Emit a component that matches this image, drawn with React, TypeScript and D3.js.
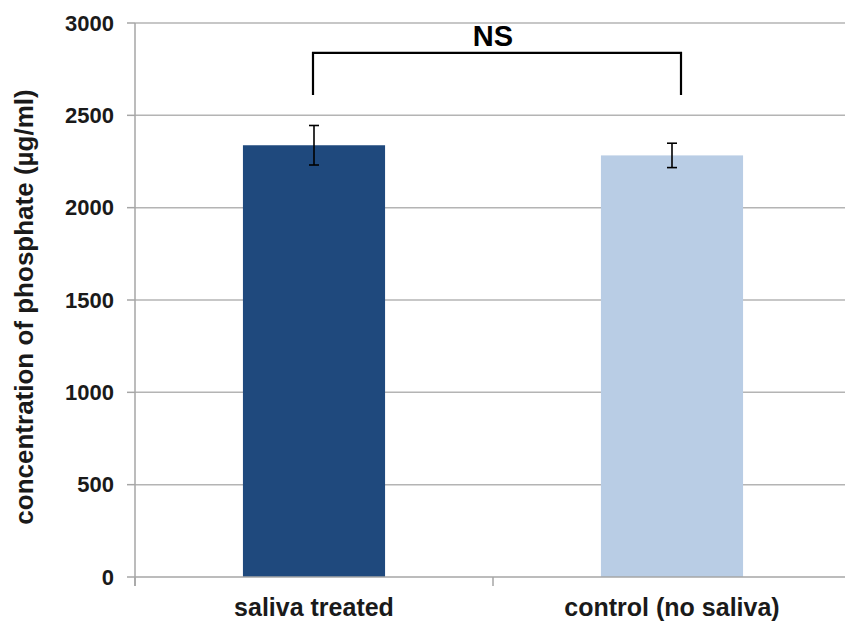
import React from "react";
import * as d3 from "d3";

// Phosphate concentration per treatment group
const categories = ["saliva treated", "control (no saliva)"];
const means = [2338, 2283];
const errors = [107, 66];
const barColors = ["#1f497d", "#b9cde5"];
const yTicks = [0, 500, 1000, 1500, 2000, 2500, 3000];

// Significance bracket between the two groups (in data units)
const bracketLow = 2610;
const bracketHigh = 2838;
const bracketLabel = "NS";

const W = 845;
const H = 628;
const FONT = "'Liberation Sans', Arial, sans-serif";

export default function App() {
  const x = d3
    .scaleBand<string>()
    .domain(categories)
    .range([135, 851])
    .paddingInner(0.603)
    .paddingOuter(0.3015);
  const y = d3.scaleLinear().domain([0, 3000]).range([577, 23]);

  const cx = (c: string) => (x(c) as number) + x.bandwidth() / 2;
  const step = x.step();
  const leftX = cx(categories[0]) - 1;
  const rightX = cx(categories[1]) + 9;

  return (
    <svg
      width={W}
      height={H}
      style={{ position: "absolute", left: 0, top: 0, background: "#fff" }}
      fontFamily={FONT}
    >
      {/* horizontal gridlines */}
      {yTicks.slice(1).map((t) => (
        <line key={t} x1={135} x2={W} y1={y(t)} y2={y(t)} stroke="#b4b4b4" strokeWidth={1.5} />
      ))}
      {/* y axis with outward ticks */}
      <line x1={135} x2={135} y1={y(3000)} y2={y(0) + 9} stroke="#a6a6a6" strokeWidth={1.5} />
      {yTicks.map((t) => (
        <g key={t}>
          <line x1={127} x2={135} y1={y(t)} y2={y(t)} stroke="#a6a6a6" strokeWidth={1.5} />
          <text
            x={114}
            y={y(t)}
            dy="0.35em"
            textAnchor="end"
            fontSize={22}
            fontWeight="bold"
            fill="#1a1a1a"
          >
            {t}
          </text>
        </g>
      ))}
      {/* bars */}
      {categories.map((c, i) => (
        <rect
          key={c}
          x={x(c)}
          y={y(means[i])}
          width={x.bandwidth()}
          height={y(0) - y(means[i])}
          fill={barColors[i]}
        />
      ))}
      {/* x axis with category dividers */}
      <line x1={135} x2={W} y1={y(0)} y2={y(0)} stroke="#a6a6a6" strokeWidth={1.5} />
      {[0, 1, 2].map((k) => (
        <line
          key={k}
          x1={135 + k * step}
          x2={135 + k * step}
          y1={y(0)}
          y2={y(0) + 9}
          stroke="#a6a6a6"
          strokeWidth={1.5}
        />
      ))}
      {/* error bars */}
      {categories.map((c, i) => {
        const px = cx(c);
        const top = y(means[i] + errors[i]);
        const bot = y(means[i] - errors[i]);
        return (
          <g key={c} stroke="#000" strokeWidth={1.6}>
            <line x1={px} x2={px} y1={top} y2={bot} />
            <line x1={px - 5} x2={px + 5} y1={top} y2={top} />
            <line x1={px - 5} x2={px + 5} y1={bot} y2={bot} />
          </g>
        );
      })}
      {/* category labels */}
      {categories.map((c) => (
        <text
          key={c}
          x={cx(c)}
          y={616}
          textAnchor="middle"
          fontSize={25}
          fontWeight="bold"
          fill="#1a1a1a"
        >
          {c}
        </text>
      ))}
      {/* y axis title */}
      <text
        transform={`translate(33, ${(y(0) + y(3000)) / 2 + 7}) rotate(-90)`}
        textAnchor="middle"
        fontSize={26}
        fontWeight="bold"
        fill="#1a1a1a"
      >
        concentration of phosphate (µg/ml)
      </text>
      {/* significance bracket */}
      <path
        d={`M${leftX},${y(bracketLow)}V${y(bracketHigh)}H${rightX}V${y(bracketLow)}`}
        fill="none"
        stroke="#000"
        strokeWidth={2.2}
      />
      <text
        x={135 + step}
        y={y(bracketHigh) - 7}
        textAnchor="middle"
        fontSize={29}
        fontWeight="bold"
        fill="#000"
      >
        {bracketLabel}
      </text>
    </svg>
  );
}
